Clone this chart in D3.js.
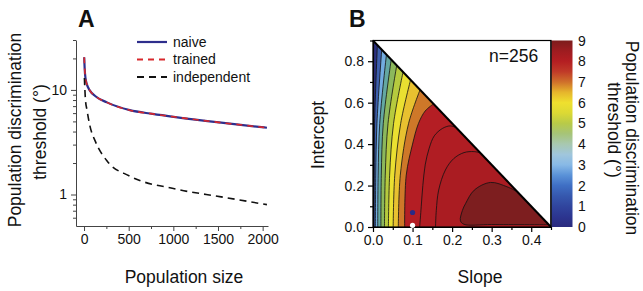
<!DOCTYPE html>
<html>
<head>
<meta charset="utf-8">
<script src="https://cdn.jsdelivr.net/npm/d3@7"></script>
<style>
body { margin: 0; background: #fff; }
text { font-family: "Liberation Sans", Arial, sans-serif; fill: #111; }
</style>
</head>
<body>
<svg id="chart" width="643" height="291"></svg>
<script>
// ---- panel A data ----
var popSize = [2, 8, 16, 32, 64, 128, 256, 512, 768, 1024, 1536, 2048];
var naive = [20.5, 15.5, 13, 11.3, 9.9, 8.7, 7.6, 6.4, 5.9, 5.5, 4.86, 4.35];
var trained = [20.5, 15.5, 13, 11.3, 9.9, 8.7, 7.6, 6.4, 5.9, 5.5, 4.86, 4.35];
var indepSize = [4, 16, 32, 64, 128, 256, 512, 1024, 1536, 2048];
var independent = [13, 8, 6.5, 4.6, 3.2, 2.1, 1.5, 1.13, 0.95, 0.8];
var sizeTicks = [0, 500, 1000, 1500, 2000];
var sizeMinor = [250, 750, 1250, 1750];
var threshTicks = [1, 10];
var threshMinor = [0.6, 0.7, 0.8, 0.9, 2, 3, 4, 5, 6, 7, 8, 9, 20, 30];
var legendNames = ["naive", "trained", "independent"];

// ---- panel B data ----
var slopeTicks = [0, 0.1, 0.2, 0.3, 0.4];
var slopeMinor = [0.05, 0.15, 0.25, 0.35, 0.45];
var interceptTicks = [0, 0.2, 0.4, 0.6, 0.8];
var interceptMinor = [0.1, 0.3, 0.5, 0.7, 0.9];
var cbarTicks = [0, 1, 2, 3, 4, 5, 6, 7, 8, 9];
var cmapValues = [0, 0.5, 1, 1.5, 2, 2.5, 3, 3.5, 4, 4.5, 5, 5.5, 6, 6.5, 7, 7.5, 8, 8.5, 9];
// contour lines, [slope, intercept] points, low to high threshold
var contours = [
  [[0.002, 0], [0.003, 0.25], [0.004, 0.5], [0.011, 0.878]],
  [[0.006, 0], [0.007, 0.25], [0.010, 0.5], [0.022, 0.856]],
  [[0.012, 0], [0.013, 0.25], [0.017, 0.5], [0.034, 0.832]],
  [[0.020, 0], [0.021, 0.25], [0.026, 0.5], [0.046, 0.808]],
  [[0.029, 0], [0.031, 0.25], [0.038, 0.5], [0.060, 0.78]],
  [[0.039, 0], [0.042, 0.25], [0.052, 0.5], [0.076, 0.748]],
  [[0.051, 0], [0.055, 0.25], [0.070, 0.5], [0.095, 0.71]],
  [[0.064, 0], [0.069, 0.25], [0.090, 0.5], [0.119, 0.662]],
  [[0.080, 0], [0.084, 0.25], [0.100, 0.4], [0.115, 0.5], [0.132, 0.56], [0.153, 0.594]],
  [[0.118, 0], [0.122, 0.1], [0.126, 0.2], [0.132, 0.3], [0.142, 0.38], [0.155, 0.44], [0.175, 0.475], [0.195, 0.488], [0.21, 0.48]],
  [[0.158, 0], [0.160, 0.08], [0.166, 0.178], [0.183, 0.275], [0.204, 0.33], [0.23, 0.359], [0.255, 0.364], [0.271, 0.358]],
  [[0.46, 0.011], [0.3, 0.012], [0.23, 0.013], [0.221, 0.03], [0.226, 0.08], [0.234, 0.113], [0.256, 0.178], [0.297, 0.215], [0.339, 0.194], [0.365, 0.17]]
];
var markSlope = [0.1, 0.1];
var markIntercept = [0.07, 0.008];

// ---- styles ----
var cmapColors = ["#2a2a7e", "#2c3590", "#30459e", "#3658ae", "#3f6fc4", "#5a92d8", "#88b9e6", "#a0c6dc",
  "#a8c8b0", "#a6c478", "#b8ca48", "#dcd934", "#efe02e", "#e6b52c", "#cf702b", "#c03a28", "#b41e22", "#9e1c20", "#7c1c1c"];
var bandColors = ["#2b2f7e", "#3d5fae", "#72ace0", "#64a8a2", "#8cb85c", "#b6ca3e", "#eae031", "#e8c130",
  "#ce7829", "#b41e24", "#b01d23", "#aa1c22", "#7d1e1f"];
var markFill = ["#2a2a86", "#ffffff"];

var svg = d3.select("#chart");

// ================= panel A =================
var xA = d3.scaleLinear().domain([-90, 2060]).range([76, 268]);
var yA = d3.scaleLog().domain([0.5, 30]).range([226, 40]);

var gA = svg.append("g");
gA.append("g").attr("transform", "translate(0,226)")
  .call(d3.axisBottom(xA).tickValues(sizeTicks).tickSize(5).tickSizeOuter(0).tickPadding(3).tickFormat(d3.format("d")));
gA.append("g").attr("transform", "translate(0,226)")
  .call(d3.axisBottom(xA).tickValues(sizeMinor).tickSize(3).tickFormat(""))
  .select(".domain").remove();
gA.append("g").attr("transform", "translate(76,0)")
  .call(d3.axisLeft(yA).tickValues(threshTicks).tickSize(5).tickSizeOuter(0).tickPadding(4).tickFormat(d3.format("d")));
gA.append("g").attr("transform", "translate(76,0)")
  .call(d3.axisLeft(yA).tickValues(threshMinor).tickSize(3).tickFormat(""))
  .select(".domain").remove();
gA.selectAll(".domain, .tick line").attr("stroke", "#444");
gA.selectAll(".tick text").attr("font-size", 14).attr("font-family", "Liberation Sans, Arial, sans-serif").attr("fill", "#111");

var lineA = d3.line().x(function (d) { return xA(d[0]); }).y(function (d) { return yA(d[1]); }).curve(d3.curveMonotoneX);
gA.append("path").attr("d", lineA(d3.zip(popSize, naive)))
  .attr("fill", "none").attr("stroke", "#2e2e8c").attr("stroke-width", 2.2);
gA.append("path").attr("d", lineA(d3.zip(popSize, trained)))
  .attr("fill", "none").attr("stroke", "#d8282c").attr("stroke-width", 1.6).attr("stroke-dasharray", "6,5");
gA.append("path").attr("d", lineA(d3.zip(indepSize, independent)))
  .attr("fill", "none").attr("stroke", "#111").attr("stroke-width", 1.6).attr("stroke-dasharray", "7,5");

// legend
var legStyle = [
  { stroke: "#2e2e8c", dash: null, w: 2.2 },
  { stroke: "#d8282c", dash: "6,5", w: 1.8 },
  { stroke: "#111", dash: "7,5", w: 1.8 }
];
legendNames.forEach(function (name, i) {
  var y = 42 + i * 17.5;
  gA.append("line").attr("x1", 137).attr("x2", 167).attr("y1", y).attr("y2", y)
    .attr("stroke", legStyle[i].stroke).attr("stroke-width", legStyle[i].w)
    .attr("stroke-dasharray", legStyle[i].dash);
  gA.append("text").attr("x", 173).attr("y", y).attr("dy", "0.35em").attr("font-size", 14).text(name);
});

gA.append("text").attr("x", 78).attr("y", 27).attr("font-size", 23).attr("font-weight", "bold").text("A");
gA.append("text").attr("x", 184).attr("y", 283).attr("text-anchor", "middle").attr("font-size", 17.5).text("Population size");
gA.append("text").attr("transform", "translate(20.5,130) rotate(-90)").attr("text-anchor", "middle")
  .attr("font-size", 17.5).text("Population discrimination");
gA.append("text").attr("transform", "translate(45.5,132) rotate(-90)").attr("text-anchor", "middle")
  .attr("font-size", 17.5).text("threshold (°)");

// ================= panel B =================
var xB = d3.scaleLinear().domain([0, 0.45]).range([373, 551]);
var yB = d3.scaleLinear().domain([0, 0.9]).range([227, 40.5]);
var cB = d3.scaleLinear().domain([0, 9]).range([227, 40.5]);

var gB = svg.append("g");
var defs = svg.append("defs");
defs.append("clipPath").attr("id", "tri").append("path")
  .attr("d", "M" + xB(0) + "," + yB(0) + "L" + xB(0) + "," + yB(0.9) + "L" + xB(0.45) + "," + yB(0) + "Z");

var fillG = gB.append("g").attr("clip-path", "url(#tri)");
fillG.append("rect").attr("x", xB(0)).attr("y", yB(0.9)).attr("width", xB(0.45) - xB(0))
  .attr("height", yB(0) - yB(0.9)).attr("fill", bandColors[0]);

var lineB = d3.line().x(function (d) { return xB(d[0]); }).y(function (d) { return yB(d[1]); }).curve(d3.curveCatmullRom);
contours.forEach(function (c, k) {
  var first = c[0], last = c[c.length - 1];
  var d = lineB(c) + "L" + xB(0.6) + "," + yB(last[1]) + "L" + xB(0.6) + "," + yB(Math.min(first[1], 0) - 0.05) +
    "L" + xB(first[0]) + "," + yB(Math.min(first[1], 0) - 0.05) + "Z";
  if (first[1] > 0) {
    d = lineB(c) + "L" + xB(0.6) + "," + yB(last[1]) + "L" + xB(0.6) + "," + yB(first[1]) + "Z";
  }
  fillG.append("path").attr("d", d).attr("fill", bandColors[k + 1]);
});
contours.forEach(function (c) {
  fillG.append("path").attr("d", lineB(c)).attr("fill", "none").attr("stroke", "#111").attr("stroke-width", 0.8);
});

// frame and diagonal
gB.append("rect").attr("x", xB(0)).attr("y", yB(0.9)).attr("width", xB(0.45) - xB(0))
  .attr("height", yB(0) - yB(0.9)).attr("fill", "none").attr("stroke", "#000").attr("stroke-width", 1.2);
gB.append("line").attr("x1", xB(0)).attr("y1", yB(0.9)).attr("x2", xB(0.45)).attr("y2", yB(0))
  .attr("stroke", "#000").attr("stroke-width", 2);

// colorbar
var grad = defs.append("linearGradient").attr("id", "cmap").attr("x1", 0).attr("y1", 1).attr("x2", 0).attr("y2", 0);
cmapValues.forEach(function (v, i) {
  grad.append("stop").attr("offset", v / 9).attr("stop-color", cmapColors[i]);
});
gB.append("rect").attr("x", 551.5).attr("y", cB(9)).attr("width", 21).attr("height", cB(0) - cB(9)).attr("fill", "url(#cmap)");
gB.append("line").attr("x1", 551).attr("x2", 551).attr("y1", cB(9)).attr("y2", cB(0)).attr("stroke", "#000").attr("stroke-width", 1.2);
gB.selectAll(".cbl").data(cbarTicks).enter().append("text").attr("class", "cbl")
  .attr("x", 578).attr("y", function (d) { return cB(d); }).attr("dy", "0.36em").attr("font-size", 14)
  .text(function (d) { return d; });

// axes
gB.append("g").attr("transform", "translate(0," + yB(0) + ")")
  .call(d3.axisBottom(xB).tickValues(slopeTicks).tickSize(5).tickSizeOuter(0).tickPadding(3).tickFormat(d3.format(".1f")));
gB.append("g").attr("transform", "translate(0," + yB(0) + ")")
  .call(d3.axisBottom(xB).tickValues(slopeMinor).tickSize(3).tickFormat(""))
  .select(".domain").remove();
gB.append("g").attr("transform", "translate(" + xB(0) + ",0)")
  .call(d3.axisLeft(yB).tickValues(interceptTicks).tickSize(5).tickSizeOuter(0).tickPadding(4).tickFormat(d3.format(".1f")));
gB.append("g").attr("transform", "translate(" + xB(0) + ",0)")
  .call(d3.axisLeft(yB).tickValues(interceptMinor).tickSize(3).tickFormat(""))
  .select(".domain").remove();
gB.selectAll(".domain, .tick line").attr("stroke", "#000").attr("stroke-width", 1.2);
gB.selectAll(".tick text").attr("font-size", 14).attr("font-family", "Liberation Sans, Arial, sans-serif").attr("fill", "#111");

// marked points
d3.zip(markSlope, markIntercept).forEach(function (p, i) {
  gB.append("circle").attr("cx", xB(p[0])).attr("cy", yB(p[1])).attr("r", 2.6).attr("fill", markFill[i]);
});

gB.append("text").attr("x", 489).attr("y", 61.5).attr("font-size", 17.5).text("n=256");
gB.append("text").attr("x", 349).attr("y", 27).attr("font-size", 23).attr("font-weight", "bold").text("B");
gB.append("text").attr("x", 480).attr("y", 283).attr("text-anchor", "middle").attr("font-size", 17.5).text("Slope");
gB.append("text").attr("transform", "translate(324,135) rotate(-90)").attr("text-anchor", "middle")
  .attr("font-size", 17.5).text("Intercept");
gB.append("text").attr("transform", "translate(626,138) rotate(90)").attr("text-anchor", "middle")
  .attr("font-size", 17.5).text("Population discrimination");
gB.append("text").attr("transform", "translate(608,130) rotate(90)").attr("text-anchor", "middle")
  .attr("font-size", 17.5).text("threshold (°)");
</script>
</body>
</html>
